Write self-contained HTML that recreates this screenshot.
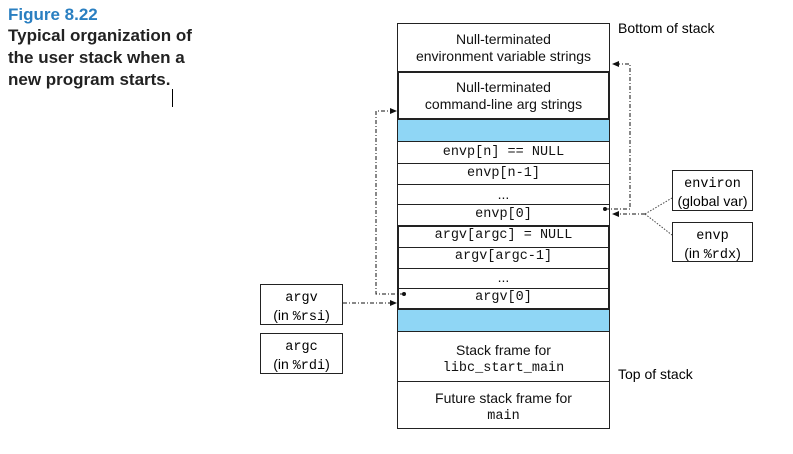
<!DOCTYPE html>
<html><head><style>
body{margin:0;width:793px;height:454px;background:#fff;position:relative;font-family:"Liberation Sans",sans-serif;overflow:hidden}
.a{position:absolute}
.c{position:absolute;left:397px;width:213px;border:1px solid #222;box-sizing:border-box;text-align:center;font-size:14px;color:#111}
.m{font-family:"Liberation Mono",monospace;font-size:13.5px}
.b{position:absolute;border:1px solid #222;box-sizing:border-box;text-align:center;font-size:14px;line-height:16px;padding-top:3px;background:#fff}
</style></head><body>
<div class="a" style="left:8px;top:5px;color:#2a7fc1;font-weight:bold;font-size:17px">Figure 8.22</div>
<div class="a" style="left:8px;top:25px;font-weight:bold;font-size:17px;line-height:22px;color:#222">Typical organization of<br>the user stack when a<br>new program starts.</div>
<div class="a" style="left:172px;top:89px;width:1px;height:18px;background:#000"></div>

<div class="c" style="top:23px;height:49px;line-height:17px;padding-top:7px">Null-terminated<br>environment variable strings</div>
<div class="c" style="top:71px;height:49px;border:2px solid #222;line-height:17px;padding-top:6px">Null-terminated<br>command-line arg strings</div>
<div class="c" style="top:119px;height:23px;background:#8fd6f5"></div>
<div class="c m" style="top:141px;height:23px;line-height:21px">envp[n] == NULL</div>
<div class="c m" style="top:163px;height:22px;line-height:20px">envp[n-1]</div>
<div class="c" style="top:184px;height:21px;line-height:18px">...</div>
<div class="c m" style="top:204px;height:22px;line-height:20px">envp[0]</div>
<div class="c" style="top:225px;height:85px;border:2px solid #222"></div>
<div class="c m" style="top:226px;height:22px;line-height:20px;border-width:0 2px 1px 2px">argv[argc] = NULL</div>
<div class="c m" style="top:247px;height:22px;line-height:20px;border-width:0 2px 1px 2px">argv[argc-1]</div>
<div class="c" style="top:268px;height:21px;line-height:18px;border-width:0 2px 1px 2px">...</div>
<div class="c m" style="top:288px;height:21px;line-height:20px;border-width:0 2px 0 2px">argv[0]</div>
<div class="c" style="top:309px;height:23px;background:#8fd6f5"></div>
<div class="c" style="top:331px;height:51px;line-height:16px;padding-top:10px">Stack frame for<br><span class="m">libc_start_main</span></div>
<div class="c" style="top:381px;height:48px;line-height:16px;padding-top:8px">Future stack frame for<br><span class="m">main</span></div>

<div class="a" style="left:618px;top:20px;font-size:14px">Bottom of stack</div>
<div class="a" style="left:618px;top:366px;font-size:14px">Top of stack</div>

<div class="b" style="left:260px;top:284px;width:83px;height:41px"><span class="m">argv</span><br>(in <span class="m">%rsi</span>)</div>
<div class="b" style="left:260px;top:333px;width:83px;height:41px"><span class="m">argc</span><br>(in <span class="m">%rdi</span>)</div>
<div class="b" style="left:672px;top:170px;width:81px;height:41px"><span class="m">environ</span><br>(global var)</div>
<div class="b" style="left:672px;top:222px;width:81px;height:40px"><span class="m">envp</span><br>(in <span class="m">%rdx</span>)</div>

<svg class="a" style="left:0;top:0" width="793" height="454">
<g fill="none" stroke="#111" stroke-width="1" stroke-dasharray="4,2,1,2">
<path d="M605 209 H630 V64 H618"/>
<path d="M404 294 H376 V111 H391"/>
<path d="M343 303 H391"/>
<path d="M645 214 H618"/>
</g>
<g fill="none" stroke="#444" stroke-width="1" stroke-dasharray="1.5,1.5">
<path d="M645 214 L672 198"/><path d="M645 214 L672 235"/>
</g>
<g fill="#111">
<circle cx="605" cy="209" r="2"/><circle cx="404" cy="294" r="2"/>
<path d="M612 64 l7 -3 v6z"/><path d="M612 214 l7 -3 v6z"/>
<path d="M397 111 l-7 -3 v6z"/><path d="M397 303 l-7 -3 v6z"/>
</g>
</svg>
</body></html>
